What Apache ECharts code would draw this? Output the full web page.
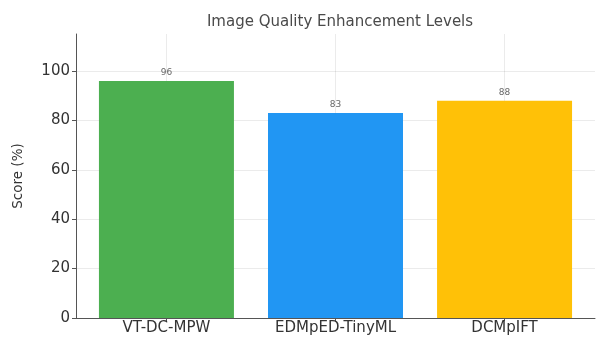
<!DOCTYPE html>
<html><head><meta charset="utf-8">
<script src="https://cdn.jsdelivr.net/npm/echarts@6/dist/echarts.min.js"></script>
<style>html,body{margin:0;padding:0;background:#fff}#c{width:601px;height:337px}</style>
</head><body><div id="c"></div>
<script>
const categories = ["VT-DC-MPW", "EDMpED-TinyML", "DCMpIFT"];
const scores = [96, 83, 88];
const barColors = ["#4CAF50", "#2196F3", "#FFC107"];
const yTicks = [0, 20, 40, 60, 80, 100];
const xPositions = [0, 1, 2];

const chart = echarts.init(document.getElementById('c'));
chart.setOption({
  animation: false,
  backgroundColor: '#fff',
  title: {
    text: 'Image Quality Enhancement Levels',
    left: 335, top: 10, textAlign: 'center',
    textStyle: {fontFamily: 'DejaVu Sans', fontSize: 15, fontWeight: 'normal', color: '#4a4a4a'}
  },
  grid: {left: 76, right: 6, top: 34, bottom: 19},
  xAxis: {
    type: 'value', min: -0.535, max: 2.535,
    axisLine: {show: true, onZero: false, lineStyle: {color: '#555', width: 1}},
    axisTick: {show: true, length: 3, customValues: xPositions, lineStyle: {color: '#555'}},
    axisLabel: {fontFamily: 'DejaVu Sans', fontSize: 15, color: '#333', margin: 3,
      customValues: xPositions, formatter: v => categories[Math.round(v)]},
    splitLine: {show: false}
  },
  yAxis: {
    type: 'value', min: 0, max: 115,
    name: 'Score (%)', nameLocation: 'middle', nameGap: 51, nameRotate: 90,
    nameTextStyle: {fontFamily: 'DejaVu Sans', fontSize: 13.5, color: '#333'},
    axisLine: {show: true, onZero: false, lineStyle: {color: '#555', width: 1}},
    axisTick: {show: true, length: 4, customValues: yTicks, lineStyle: {color: '#555'}},
    axisLabel: {fontFamily: 'DejaVu Sans', fontSize: 15, color: '#333', margin: 6, customValues: yTicks},
    splitLine: {show: false}
  },
  series: [{
    type: 'bar',
    data: scores.map((v, i) => ({value: [xPositions[i], v], itemStyle: {color: barColors[i]}})),
    barWidth: 135,
    label: {show: true, position: 'top', distance: 4, fontFamily: 'DejaVu Sans', fontSize: 9, color: '#666',
      formatter: p => String(p.value[1])},
    markLine: {
      silent: true, symbol: 'none', label: {show: false}, z: 0,
      lineStyle: {color: 'rgba(0,0,0,0.08)', width: 1, type: 'solid'},
      data: xPositions.map(x => ({xAxis: x})).concat(yTicks.slice(1).map(y => ({yAxis: y})))
    }
  }]
});
</script></body></html>
